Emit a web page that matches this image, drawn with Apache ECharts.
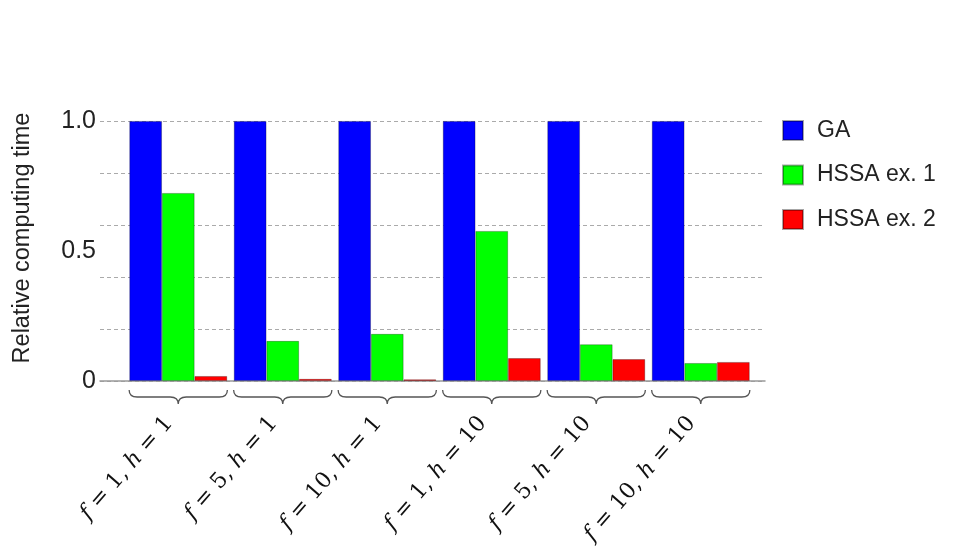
<!DOCTYPE html>
<html>
<head>
<meta charset="utf-8">
<script src="https://cdn.jsdelivr.net/npm/echarts@6/dist/echarts.min.js"></script>
<style>html,body{margin:0;padding:0;background:#fff;}#c{width:953px;height:558px;}</style>
</head>
<body>
<div id="c"></div>
<script>
const categories = ['f = 1, h = 1', 'f = 5, h = 1', 'f = 10, h = 1', 'f = 1, h = 10', 'f = 5, h = 10', 'f = 10, h = 10'];
const seriesNames = ['GA', 'HSSA ex. 1', 'HSSA ex. 2'];
const gaValues = [1.0, 1.0, 1.0, 1.0, 1.0, 1.0];
const hssa1Values = [0.723, 0.154, 0.181, 0.577, 0.141, 0.069];
const hssa2Values = [0.019, 0.008, 0.006, 0.088, 0.084, 0.073];
const yTickLabels = ['0', '0.5', '1.0'];
const colors = ['#0000ff', '#00ff00', '#ff0000'];

const chart = echarts.init(document.getElementById('c'), null, {renderer: 'canvas'});

function braceItem(params, api) {
  const c = api.coord([api.value(0), 0]);
  const band = api.size([1, 0])[0];
  const half = band * 0.47;
  const cx = c[0], L = cx - half, R = cx + half;
  const y0 = c[1] + 9, y1 = c[1] + 16, y2 = c[1] + 23, r = 8;
  const d = 'M' + L + ' ' + y0 + ' Q' + L + ' ' + y1 + ' ' + (L + r) + ' ' + y1 +
    ' L' + (cx - r) + ' ' + y1 + ' Q' + cx + ' ' + y1 + ' ' + cx + ' ' + y2 +
    ' Q' + cx + ' ' + y1 + ' ' + (cx + r) + ' ' + y1 +
    ' L' + (R - r) + ' ' + y1 + ' Q' + R + ' ' + y1 + ' ' + R + ' ' + y0;
  return {type: 'path', shape: {pathData: d}, style: {fill: 'none', stroke: '#555', lineWidth: 1.3}};
}

const barBase = {type: 'bar', xAxisIndex: 1, yAxisIndex: 2, barWidth: '31.2%', barGap: '0%',
  itemStyle: {borderColor: 'rgba(0,0,0,0.35)', borderWidth: 0.8}};

const option = {
  animation: false,
  backgroundColor: '#ffffff',
  legend: {
    orient: 'vertical', left: 782, top: 119, padding: 0, itemWidth: 20, itemHeight: 19, itemGap: 21.5,
    icon: 'rect', data: seriesNames,
    textStyle: {fontFamily: 'Liberation Sans', fontSize: 23, lineHeight: 20, color: '#222', padding: [0, 0, 0, 9]}
  },
  grid: [
    {left: 100, right: 188, top: 121, bottom: 177},
    {left: 126, right: 200, top: 121, bottom: 177}
  ],
  xAxis: [
    {type: 'value', gridIndex: 0, min: 0, max: 1, axisLabel: {show: false}, axisTick: {show: false},
      splitLine: {show: false}, axisLine: {show: true, lineStyle: {color: '#999', width: 1.5}}},
    {type: 'category', gridIndex: 1, data: categories, axisLine: {show: false}, axisTick: {show: false},
      axisLabel: {
        interval: 0, rotate: 49, margin: 28, color: '#111', padding: [0, 14, 0, 0],
        fontFamily: 'DejaVu Serif', fontSize: 22,
        formatter: v => v.replace(/([fh])/g, '{i|$1}'),
        rich: {i: {fontFamily: 'DejaVu Serif', fontStyle: 'italic', fontSize: 22, color: '#111'}}
      }}
  ],
  yAxis: [
    {type: 'value', gridIndex: 0, min: 0, max: 1, interval: 0.2, axisLabel: {show: false},
      axisLine: {show: false}, axisTick: {show: false},
      splitLine: {show: true, lineStyle: {color: '#aaa', type: [4, 3], width: 1}}},
    {type: 'value', gridIndex: 0, position: 'left', min: 0, max: 1, interval: 0.5,
      axisLine: {show: false}, axisTick: {show: false}, splitLine: {show: false},
      axisLabel: {margin: 4, fontFamily: 'Liberation Sans', fontSize: 25, color: '#222',
        formatter: v => yTickLabels[Math.round(v * 2)]},
      name: 'Relative computing time', nameLocation: 'middle', nameGap: 65,
      nameTextStyle: {fontFamily: 'Liberation Sans', fontSize: 23.5, color: '#222', padding: [0, 0, 0, 26]}},
    {type: 'value', gridIndex: 1, min: 0, max: 1, show: false}
  ],
  series: [
    Object.assign({}, barBase, {name: seriesNames[0], data: gaValues, itemStyle: Object.assign({}, barBase.itemStyle, {color: colors[0]})}),
    Object.assign({}, barBase, {name: seriesNames[1], data: hssa1Values, itemStyle: Object.assign({}, barBase.itemStyle, {color: colors[1]})}),
    Object.assign({}, barBase, {name: seriesNames[2], data: hssa2Values, itemStyle: Object.assign({}, barBase.itemStyle, {color: colors[2]})}),
    {type: 'custom', xAxisIndex: 1, yAxisIndex: 2, clip: false, silent: true,
      data: categories.map((c, i) => [i, 0]), renderItem: braceItem, encode: {x: 0, y: 1}, z: 1}
  ]
};
chart.setOption(option);
</script>
</body>
</html>
